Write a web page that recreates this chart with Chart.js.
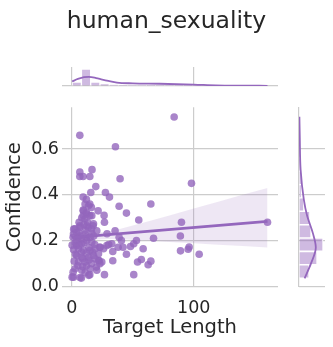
<!DOCTYPE html>
<html>
<head>
<meta charset="utf-8">
<script src="https://cdn.jsdelivr.net/npm/chart.js@4.4.1/dist/chart.umd.min.js"></script>
<style>
  html, body { margin: 0; padding: 0; background: #fff; }
  #wrap { position: relative; width: 333px; height: 347px; }
  #wrap canvas { position: absolute; left: 0; top: 0; }
</style>
</head>
<body>
<div id="wrap">
  <canvas id="main" width="333" height="347"></canvas>
  <canvas id="top" width="333" height="347"></canvas>
  <canvas id="side" width="333" height="347"></canvas>
</div>
<script>
// scatter: target length vs confidence
const targetLength = [
  83.9, 6.6, 35.8, 6.6, 6.6, 9.3, 14.8, 16.6, 39.6, 98.1,
  19.7, 15.6, 27.6, 30.9, 9.3, 12, 14.8, 16.1, 38.8, 64.8,
  21.6, 44.8, 26.5, 26.8, 54.9, 89.9, 160.4, 1.6, 28.9, 38.8,
  40.7, 67, 89, 53, 50.8, 48.1, 30.3, 38, 42, 58.5,
  89.1, 95.4, 96.2, 104.4, 33.6, 44.8, 57, 64.8, 53.9, 62.6,
  33.6, 22.4, 23, 20.2, 26.8, 50.8, 1.1, 0.3, 7.9, 14.8, 0.3,
  9.3, 12, 9.3, 14.8, 10.7, 17.5, 16.1, 13.4, 6.6, 1.1,
  5.2, 7.9, 12, 3.8, 18.9, 23,
  10.9, 13.7, 9.6, 12.3, 16.4, 8.2, 17.8, 12.3, 6.8, 2.7,
  1.4, 5.5, 10.9, 16.4, 20.5, 35.5, 32.8, 28.7, 23.2, 26,
  4.1, 8.2, 12.3, 16.4, 5.5, 9.6, 15, 19.1, 4.1, 8.2,
  13.7, 17.8, 21.9, 5.5, 10.9, 16.4, 21.9, 24.6, 2.7, 8.2,
  15, 20.5, 1.4, 6.8, 13.9,
  3, 7, 10, 14, 11, 6, 15, 9, 12, 18,
  4, 8, 13, 17, 5, 11, 2, 19, 10, 14,
  9, 1.5, 12, 6, 3
];
const confidence = [
  0.74, 0.66, 0.61, 0.50, 0.48, 0.48, 0.48, 0.51, 0.47, 0.45,
  0.436, 0.41, 0.41, 0.39, 0.39, 0.38, 0.36, 0.345, 0.35, 0.36,
  0.33, 0.32, 0.31, 0.28, 0.29, 0.28, 0.28, 0.25, 0.23, 0.214,
  0.2, 0.21, 0.22, 0.2, 0.186, 0.174, 0.183, 0.171, 0.171, 0.164,
  0.155, 0.162, 0.172, 0.14, 0.152, 0.14, 0.117, 0.11, 0.106, 0.094,
  0.112, 0.113, 0.099, 0.084, 0.051, 0.051, 0.062, 0.04, 0.036, 0.051, 0.18,
  0.333, 0.323, 0.309, 0.309, 0.294, 0.265, 0.251, 0.258, 0.265, 0.214,
  0.214, 0.207, 0.214, 0.178, 0.183, 0.171,
  0.36, 0.352, 0.33, 0.316, 0.309, 0.3, 0.273, 0.265, 0.258, 0.251,
  0.229, 0.236, 0.229, 0.232, 0.243, 0.243, 0.186, 0.178, 0.171, 0.164,
  0.2, 0.186, 0.2, 0.193, 0.164, 0.157, 0.157, 0.164, 0.135, 0.127,
  0.127, 0.135, 0.142, 0.106, 0.106, 0.099, 0.113, 0.106, 0.077, 0.07,
  0.077, 0.07, 0.04, 0.038, 0.048,
  0.14, 0.22, 0.19, 0.17, 0.245, 0.28, 0.215, 0.12, 0.09, 0.22,
  0.235, 0.15, 0.28, 0.15, 0.09, 0.06, 0.11, 0.12, 0.27, 0.115,
  0.085, 0.16, 0.145, 0.18, 0.19
];

// regression line and its confidence band
const fitX = [0.3, 160.4];
const fitY = [0.213, 0.284];
const ciX = [0.3, 10, 20, 30, 40, 60, 80, 100, 120, 140, 160.4];
const ciUpper = [0.235, 0.232, 0.233, 0.24, 0.252, 0.28, 0.31, 0.34, 0.37, 0.4, 0.43];
const ciLower = [0.19, 0.198, 0.205, 0.207, 0.206, 0.2, 0.194, 0.188, 0.182, 0.176, 0.17];

// top marginal: histogram of target length + kde
const topBinCenters = [4.1, 11.7, 19.3, 26.9, 34.5, 42.1, 49.7, 57.3, 64.9, 72.5, 80.1,
  87.7, 95.3, 102.9, 110.5, 118.1, 125.7, 133.3, 140.9, 148.5, 156.1];
const topCounts = [13, 55, 13, 8, 4, 3, 2, 2, 1, 1, 1, 1, 1, 1, 0, 0, 0, 0, 0, 0, 1];
const topKdeX = [0.3, 5, 10, 14, 20, 25, 30, 37, 50, 72, 100, 118, 140, 160.4];
const topKdeY = [15, 23, 29, 30, 26, 21, 16.5, 11, 8.6, 7.3, 4.6, 2, 1, 0.7];

// right marginal: histogram of confidence + kde
const sideBinCenters = [0.065, 0.123, 0.182, 0.24, 0.298, 0.357, 0.415, 0.473, 0.532, 0.59, 0.648, 0.707];
const sideCounts = [25, 45, 60, 30, 27, 12, 6, 6, 4, 1, 2, 1];
const sideKdeY = [0.035, 0.1, 0.17, 0.23, 0.31, 0.38, 0.51, 0.65, 0.74];
const sideKdeX = [14, 30, 42, 35, 20, 12, 4, 2, 1];

const xTicks = [0, 100];
const yTicks = [0, 0.2, 0.4, 0.6];

const purple = '#9467bd';
const gridColor = '#cccccc';
const textColor = '#262626';
const X_MIN = -8, X_MAX = 169, Y_MIN = -0.003, Y_MAX = 0.783;

Chart.defaults.font.family = "'DejaVu Sans', sans-serif";
Chart.defaults.color = textColor;
Chart.defaults.animation = false;

const fixedTicks = values => scale => { scale.ticks = values.map(v => ({ value: v })); };
const noPlugins = { legend: { display: false }, tooltip: { enabled: false } };
const hiddenGrid = { color: gridColor, lineWidth: 1.2, drawTicks: false, offset: false };

const points = targetLength.map((x, i) => ({ x: x, y: confidence[i] }));
const fit = fitX.map((x, i) => ({ x: x, y: fitY[i] }));
const bandUp = ciX.map((x, i) => ({ x: x, y: ciUpper[i] }));
const bandLo = ciX.map((x, i) => ({ x: x, y: ciLower[i] }));

new Chart(document.getElementById('main'), {
  type: 'scatter',
  data: {
    datasets: [
      { data: points, backgroundColor: 'rgba(148,103,189,0.8)', borderWidth: 0, pointRadius: 3.8, order: 3 },
      { type: 'line', data: bandUp, pointRadius: 0, borderWidth: 0, fill: '+1', backgroundColor: 'rgba(148,103,189,0.16)', order: 2 },
      { type: 'line', data: bandLo, pointRadius: 0, borderWidth: 0, fill: false, order: 2 },
      { type: 'line', data: fit, pointRadius: 0, borderColor: purple, borderWidth: 2.6, fill: false, order: 1 }
    ]
  },
  options: {
    responsive: false,
    layout: { padding: 0 },
    plugins: {
      ...noPlugins,
      title: {
        display: true, text: 'human_sexuality', color: textColor,
        font: { size: 23.5, weight: 'normal' }, padding: { top: 8, bottom: 71 }
      }
    },
    scales: {
      x: {
        type: 'linear', min: X_MIN, max: X_MAX,
        afterBuildTicks: fixedTicks(xTicks),
        afterFit: s => { s.height = 60; },
        grid: { color: gridColor, lineWidth: 1.2, drawTicks: false },
        border: { display: false },
        ticks: { font: { size: 17.5 }, padding: 11, color: textColor },
        title: { display: true, text: 'Target Length', color: textColor, font: { size: 19.5 }, padding: { top: 0, bottom: 7 } }
      },
      y: {
        type: 'linear', min: Y_MIN, max: Y_MAX,
        afterBuildTicks: fixedTicks(yTicks),
        afterFit: s => { s.width = 62; },
        grid: { color: gridColor, lineWidth: 1.2, drawTicks: false },
        border: { display: false },
        ticks: { font: { size: 17.5 }, padding: 3, color: textColor, callback: v => v.toFixed(1) },
        title: { display: true, text: 'Confidence', color: textColor, font: { size: 19.5 }, padding: { top: 3, bottom: 0 } }
      },
      // empty right-hand strip that leaves room for the side marginal
      spacer: {
        type: 'linear', position: 'right', display: true,
        afterFit: s => { s.width = 55; },
        ticks: { display: false }, grid: { display: false }, border: { display: false }
      }
    }
  }
});

new Chart(document.getElementById('top'), {
  type: 'bar',
  data: {
    datasets: [
      { type: 'line', data: topKdeX.map((x, i) => ({ x: x, y: topKdeY[i] })), borderColor: purple, borderWidth: 1.8,
        pointRadius: 0, cubicInterpolationMode: 'monotone', fill: false, order: 1 },
      { type: 'bar', data: topBinCenters.map((x, i) => ({ x: x, y: topCounts[i] })), backgroundColor: 'rgba(148,103,189,0.45)',
        borderColor: '#ffffff', borderWidth: 1, barPercentage: 1, categoryPercentage: 1, order: 2 }
    ]
  },
  options: {
    responsive: false,
    layout: { padding: { left: 62, right: 55, top: 67, bottom: 261 } },
    plugins: noPlugins,
    scales: {
      x: {
        type: 'linear', min: X_MIN, max: X_MAX, offset: false,
        afterBuildTicks: fixedTicks(xTicks), afterFit: s => { s.height = 0; },
        ticks: { display: false }, grid: hiddenGrid, border: { display: false }
      },
      y: {
        type: 'linear', min: 0, max: 62,
        afterBuildTicks: fixedTicks([0]), afterFit: s => { s.width = 0; },
        ticks: { display: false }, grid: hiddenGrid, border: { display: false }
      }
    }
  }
});

new Chart(document.getElementById('side'), {
  type: 'bar',
  data: {
    datasets: [
      { type: 'line', indexAxis: 'y', data: sideKdeY.map((y, i) => ({ x: sideKdeX[i], y: y })), borderColor: purple, borderWidth: 1.8,
        pointRadius: 0, cubicInterpolationMode: 'monotone', fill: false, order: 1 },
      { type: 'bar', data: sideBinCenters.map((y, i) => ({ x: sideCounts[i], y: y })), backgroundColor: 'rgba(148,103,189,0.45)',
        borderColor: '#ffffff', borderWidth: 1, barPercentage: 1, categoryPercentage: 1, order: 2 }
    ]
  },
  options: {
    responsive: false,
    indexAxis: 'y',
    layout: { padding: { left: 299, right: 8, top: 107, bottom: 60 } },
    plugins: noPlugins,
    scales: {
      x: {
        type: 'linear', min: 0, max: 65,
        afterBuildTicks: fixedTicks([0]), afterFit: s => { s.height = 0; },
        ticks: { display: false }, grid: hiddenGrid, border: { display: false }
      },
      y: {
        type: 'linear', min: Y_MIN, max: Y_MAX, offset: false,
        afterBuildTicks: fixedTicks(yTicks), afterFit: s => { s.width = 0; },
        ticks: { display: false }, grid: hiddenGrid, border: { display: false }
      }
    }
  }
});
</script>
</body>
</html>
